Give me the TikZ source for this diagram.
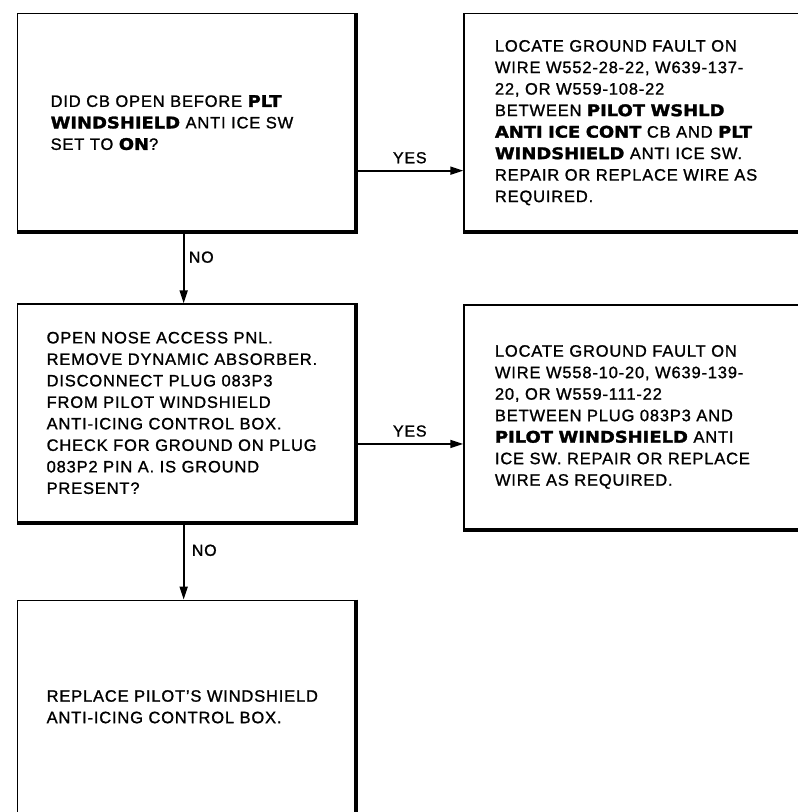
\documentclass[tikz,border=0pt]{standalone}
\usepackage{fontspec}
\setmainfont{Liberation Sans}[LetterSpace=5, FakeBold=1.2]
\newfontfamily\blk{DejaVu Sans}[Scale=0.97, FakeStretch=1.12, FakeBold=1.8]
\usetikzlibrary{positioning,arrows.meta}
\newcommand\hv[1]{{\blk\bfseries #1}}

\begin{document}
\begin{tikzpicture}[
  x=1pt, y=-1pt,
  box/.style={draw, line width=1.3pt, align=left, font=\fontsize{16.5}{21.5}\selectfont,
              text width=280pt, inner xsep=29pt, minimum height=218pt},
  rbox/.style={box, text width=273pt, inner xsep=31pt},
  shd/.style={line width=4pt},
  arr/.style={-{Triangle[length=13pt,width=8pt]}, line width=1.8pt},
  lab/.style={font=\fontsize{16}{18}\selectfont}
]
\useasboundingbox (0,0) rectangle (798,812);
\node[box, anchor=north west, text width=272pt, inner xsep=33pt] (q1) at (17,13)
  {DID CB OPEN BEFORE \hv{PLT}\\ \hv{WINDSHIELD} ANTI ICE SW\\ SET TO \hv{ON}?};
\node[box, below=71pt of q1] (q2)
  {OPEN NOSE ACCESS PNL.\\ REMOVE DYNAMIC ABSORBER.\\ DISCONNECT PLUG 083P3\\
   FROM PILOT WINDSHIELD\\ ANTI-ICING CONTROL BOX.\\ CHECK FOR GROUND ON PLUG\\
   083P2 PIN A. IS GROUND\\ PRESENT?};
\node[box, below=77pt of q2, minimum height=213pt] (q3)
  {REPLACE PILOT’S WINDSHIELD\\ ANTI-ICING CONTROL BOX.};
\node[rbox, right=107pt of q1] (r1)
  {LOCATE GROUND FAULT ON\\ WIRE W552-28-22, W639-137-\\ 22, OR W559-108-22\\
   BETWEEN \hv{PILOT WSHLD}\\ \hv{ANTI ICE CONT} CB AND \hv{PLT}\\
   \hv{WINDSHIELD} ANTI ICE SW.\\ REPAIR OR REPLACE WIRE AS\\ REQUIRED.};
\node[rbox, right=107pt of q2, yshift=-4pt, minimum height=224pt] (r2)
  {LOCATE GROUND FAULT ON\\ WIRE W558-10-20, W639-139-\\ 20, OR W559-111-22\\
   BETWEEN PLUG 083P3 AND\\ \hv{PILOT WINDSHIELD} ANTI\\ ICE SW. REPAIR OR REPLACE\\
   WIRE AS REQUIRED.};
% heavy right and bottom edges
\draw[shd] (q1.north east) -- (q1.south east) -- (q1.south west);
\draw[shd] (q2.north east) -- (q2.south east) -- (q2.south west);
\draw[shd] (q3.north east) -- (q3.south east) -- (q3.south west);
\draw[shd] (r1.north east) -- (r1.south east) -- (r1.south west);
\draw[shd] (r2.north east) -- (r2.south east) -- (r2.south west);
\draw[arr] ([yshift=-48pt]q1.east) -- ([yshift=-48pt]q1.east -| r1.west)
  node[midway, above=3pt, lab] {YES};
\draw[arr] ([yshift=-31pt]q2.east) -- ([yshift=-31pt]q2.east -| r2.west)
  node[midway, above=3pt, lab] {YES};
\draw[arr] ([xshift=-3pt]q1.south) -- ([xshift=-3pt]q2.north)
  node[pos=0.35, right=1pt, lab] {NO};
\draw[arr] ([xshift=-3pt]q2.south) -- ([xshift=-3pt]q3.north)
  node[pos=0.36, right=4pt, lab] {NO};
\end{tikzpicture}
\end{document}
